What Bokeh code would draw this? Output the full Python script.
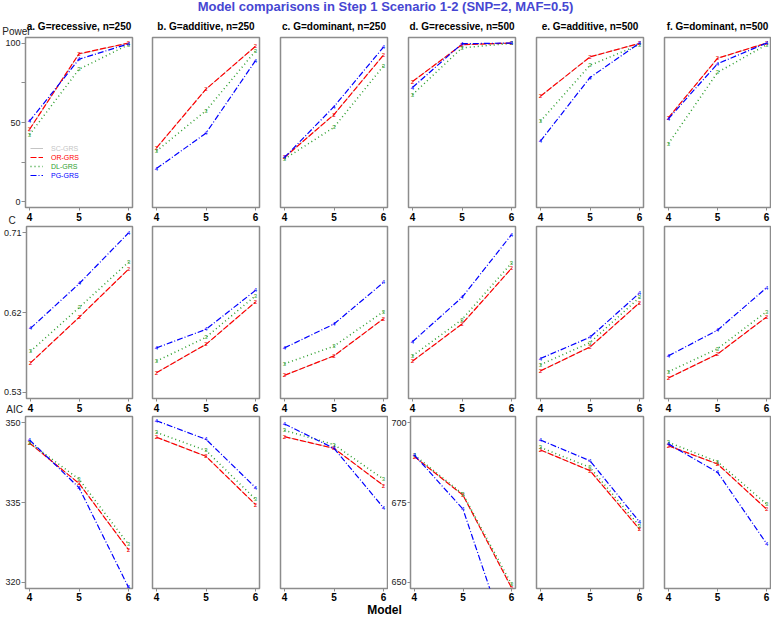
from bokeh.plotting import figure
from bokeh.layouts import column, row
from bokeh.models import (ColumnDataSource, FixedTicker, Range1d, Label, Legend,
                          LegendItem, LinearAxis, Div)
from bokeh.core.properties import value
from bokeh.embed import file_html
from bokeh.resources import INLINE

FONT = "Liberation Sans"

# ---------------- data ----------------
models = [4, 5, 6]
panel_titles = ["a. G=recessive, n=250", "b. G=additive, n=250", "c. G=dominant, n=250",
                "d. G=recessive, n=500", "e. G=additive, n=500", "f. G=dominant, n=500"]
series = ["SC-GRS", "OR-GRS", "DL-GRS", "PG-GRS"]
symbols = ["1", "2", "3", "4"]
row_names = ["Power", "C", "AIC"]

# Power (%) : one list per panel a..f, values at models 4,5,6
power_sc = [[45.5, 93.0, 100.0], [34.0, 71.0, 98.0], [28.0, 55.0, 92.5],
            [75.8, 99.0, 100.0], [66.5, 91.3, 99.8], [53.0, 90.4, 100.0]]
power_or = [[45.6, 93.3, 100.0], [34.0, 71.0, 98.0], [28.0, 55.0, 92.5],
            [75.8, 99.0, 100.0], [66.5, 91.3, 99.8], [53.0, 90.4, 100.0]]
power_dl = [[42.3, 83.5, 99.0], [32.0, 57.5, 95.0], [27.0, 47.0, 85.6],
            [67.5, 97.0, 99.8], [50.8, 86.0, 99.0], [36.7, 81.5, 99.0]]
power_pg = [[50.8, 89.8, 99.5], [21.0, 43.3, 89.0], [28.0, 60.0, 97.5],
            [72.0, 99.6, 100.0], [38.3, 78.3, 100.0], [52.3, 87.0, 100.0]]

# C statistic
c_sc = [[0.563, 0.615, 0.669], [0.552, 0.584, 0.632], [0.549, 0.571, 0.613],
        [0.565, 0.607, 0.670], [0.554, 0.581, 0.631], [0.546, 0.573, 0.615]]
c_or = [[0.563, 0.615, 0.669], [0.552, 0.584, 0.632], [0.549, 0.571, 0.613],
        [0.565, 0.607, 0.670], [0.554, 0.581, 0.631], [0.546, 0.573, 0.615]]
c_dl = [[0.576, 0.626, 0.677], [0.565, 0.592, 0.639], [0.562, 0.582, 0.621],
        [0.571, 0.612, 0.676], [0.561, 0.586, 0.637], [0.553, 0.579, 0.621]]
c_pg = [[0.602, 0.653, 0.710], [0.580, 0.601, 0.645], [0.580, 0.607, 0.654],
        [0.587, 0.637, 0.708], [0.568, 0.592, 0.642], [0.571, 0.600, 0.648]]

# AIC
aic_sc = [[346.2, 338.6, 326.1], [347.3, 343.7, 334.6], [347.4, 345.2, 338.2],
          [689.4, 677.3, 648.2], [691.5, 685.0, 666.6], [692.8, 687.1, 672.9]]
aic_or = [[346.2, 338.6, 326.1], [347.3, 343.7, 334.6], [347.4, 345.2, 338.2],
          [689.4, 677.3, 648.2], [691.5, 685.0, 666.6], [692.8, 687.1, 672.9]]
aic_dl = [[346.3, 339.4, 327.1], [348.2, 344.8, 335.6], [348.6, 345.9, 339.4],
          [689.9, 677.6, 649.3], [692.3, 686.0, 667.6], [693.9, 687.8, 674.5]]
aic_pg = [[346.8, 337.8, 319.0], [350.4, 346.9, 337.8], [349.8, 345.2, 334.0],
          [689.9, 672.9, 627.6], [694.6, 688.1, 668.9], [693.4, 684.5, 662.1]]

power_ticks = [0, 25, 50, 75, 100]
power_tick_labels = ["0", "", "50", "", "100"]
c_ticks = [0.53, 0.62, 0.71]
aic250_ticks = [320, 335, 350]
aic500_ticks = [650, 675, 700]

data = [[power_sc, power_or, power_dl, power_pg],
        [c_sc, c_or, c_dl, c_pg],
        [aic_sc, aic_or, aic_dl, aic_pg]]

# ---------------- styles / layout ----------------
colors = {"SC-GRS": "#c4c4c4", "OR-GRS": "#ff0000", "DL-GRS": "#2e9e2e", "PG-GRS": "#0000ff"}
dashes = {"SC-GRS": "solid", "OR-GRS": "6 2", "DL-GRS": "1 3", "PG-GRS": "6 2 1 2"}
lwidths = {"SC-GRS": 1.0, "OR-GRS": 1.2, "DL-GRS": 1.5, "PG-GRS": 1.2}
GRAY = "#8c8c8c"

XR = (3.92, 6.08)
FH = [170, 172, 172]       # frame heights per row
TOP = [24, 1, 1]           # top borders
BOT = [18, 17, 16]         # bottom borders
XSTANDOFF = [2, 2, 1]
TITLE_DY = 11.5            # offset of the panel-title labels above the frame


def y_range(r, c):
    if r == 0:
        return (-3.5, 103.5)
    if r == 1:
        return (0.5228, 0.7172)
    return (318.8, 351.2) if c < 3 else (648.0, 702.0)


def y_ticks(r, c):
    if r == 0:
        return power_ticks, dict(zip(power_ticks, power_tick_labels))
    if r == 1:
        return c_ticks, {}
    return (aic250_ticks if c < 3 else aic500_ticks), {}


def borders(r, c):
    fw = 106 if c == 5 else 107
    lb = 25 if c == 0 else 10
    rb = 1 if c == 5 else (10 if c == 0 else 11)
    if r == 1 and c == 0:
        rb = 18
    if r == 1 and c == 1:
        lb = 2
    if r == 2 and c == 2:
        rb = 1
    if r == 2 and c == 3:
        lb = 20
    return lb, fw, rb


rows = []
for r in range(3):
    figs = []
    for c in range(6):
        lb, fw, rb = borders(r, c)
        y0, y1 = y_range(r, c)
        ppu_y = FH[r] / (y1 - y0)
        ppu_x = fw / (XR[1] - XR[0])
        p = figure(width=lb + fw + rb, height=TOP[r] + FH[r] + BOT[r],
                   x_range=Range1d(*XR), y_range=Range1d(y0, y1),
                   x_axis_type=None, y_axis_type=None,
                   output_backend="svg", toolbar_location=None, tools="",
                   min_border_left=lb, min_border_right=rb,
                   min_border_top=TOP[r], min_border_bottom=BOT[r],
                   background_fill_color="white", border_fill_color="white",
                   outline_line_color=GRAY, outline_line_width=1.5)

        xb = LinearAxis(ticker=FixedTicker(ticks=models), axis_line_color=None,
                        major_tick_line_color=GRAY, major_tick_line_width=1,
                        major_tick_in=0, major_tick_out=3, minor_tick_line_color=None,
                        major_label_text_font_size="10px", major_label_text_font_style="bold",
                        major_label_text_font=FONT, major_label_text_color="black",
                        major_label_standoff=XSTANDOFF[r])
        p.add_layout(xb, "below")

        if c == 0 or (r == 2 and c == 3):
            ticks, overrides = y_ticks(r, c)
            ya = LinearAxis(ticker=FixedTicker(ticks=ticks), axis_line_color=None,
                            major_tick_line_color=GRAY, major_tick_in=0,
                            major_tick_out=4 if c == 0 else 3,
                            minor_tick_line_color=None, major_label_standoff=1,
                            major_label_text_font_size="9px", major_label_text_font=FONT,
                            major_label_text_color="#222222")
            if overrides:
                ya.major_label_overrides = overrides
            p.add_layout(ya, "left")

        renderers = []
        for s_i, name in enumerate(series):
            vals = data[r][s_i][c]
            src = ColumnDataSource(dict(x=models, y=vals))
            lr = p.line("x", "y", source=src, line_color=colors[name],
                        line_dash=dashes[name], line_width=lwidths[name])
            inside = [(m, v) for m, v in zip(models, vals) if y0 <= v <= y1]
            msrc = ColumnDataSource(dict(x=[m for m, v in inside], y=[v for m, v in inside],
                                         t=[symbols[s_i]] * len(inside)))
            p.text("x", "y", text="t", source=msrc, text_font=value(FONT),
                   text_font_size="6px", text_align="center", text_baseline="middle",
                   text_color=colors[name])
            renderers.append(lr)

        lab_kw = dict(text_font=FONT, text_font_size="10px", text_align="center",
                      text_baseline="middle", x_units="data", y_units="data")
        if r == 0 and c == 0:
            p.add_layout(Label(x=XR[0] - 9 / ppu_x, y=y1 + 6.5 / ppu_y, text=row_names[0],
                               text_color="#222222", **lab_kw), "above")
        if r == 0:
            p.add_layout(Label(x=5, y=y1 + TITLE_DY / ppu_y, text=panel_titles[c],
                               text_font_style="bold", text_color="black", **lab_kw), "above")
        if r == 0 and c == 0:
            p.add_layout(Label(x=XR[0] - 13.3 / ppu_x, y=y0 - 13.3 / ppu_y, text=row_names[1],
                               text_color="#222222", **lab_kw), "right")
        if r == 1 and c == 0:
            p.add_layout(Label(x=XR[0] - 12 / ppu_x, y=y0 - 11.2 / ppu_y, text=row_names[2],
                               text_color="#222222", **lab_kw), "right")

        if r == 0 and c == 0:
            for s_i, name in enumerate(series):
                lg = Legend(items=[LegendItem(label=name, renderers=[renderers[s_i]])],
                            location=(5, 55 - 9 * s_i), padding=0, margin=0, spacing=0,
                            border_line_color=None, background_fill_alpha=0,
                            glyph_width=13, glyph_height=8, label_height=8,
                            label_standoff=8, label_text_font=FONT,
                            label_text_font_size="7px", label_text_color=colors[name])
                p.add_layout(lg)
        figs.append(p)
    rows.append(row(*figs))

title = Div(text="Model comparisons in Step 1 Scenario 1-2 (SNP=2, MAF=0.5)",
            width=771, height=13, margin=0,
            styles={"font-family": "Liberation Sans, Arial, sans-serif", "font-size": "13px",
                    "font-weight": "bold", "color": "#4646d2", "text-align": "center",
                    "line-height": "13px"})
xlab = Div(text="Model", width=771, height=13, margin=0,
           styles={"font-family": "Liberation Sans, Arial, sans-serif", "font-size": "12px",
                   "font-weight": "bold", "color": "black", "text-align": "center",
                   "line-height": "12px", "padding-right": "2px"})

layout = column(title, rows[0], rows[1], rows[2], xlab)

open("out.html", "w").write(file_html(layout, INLINE))
